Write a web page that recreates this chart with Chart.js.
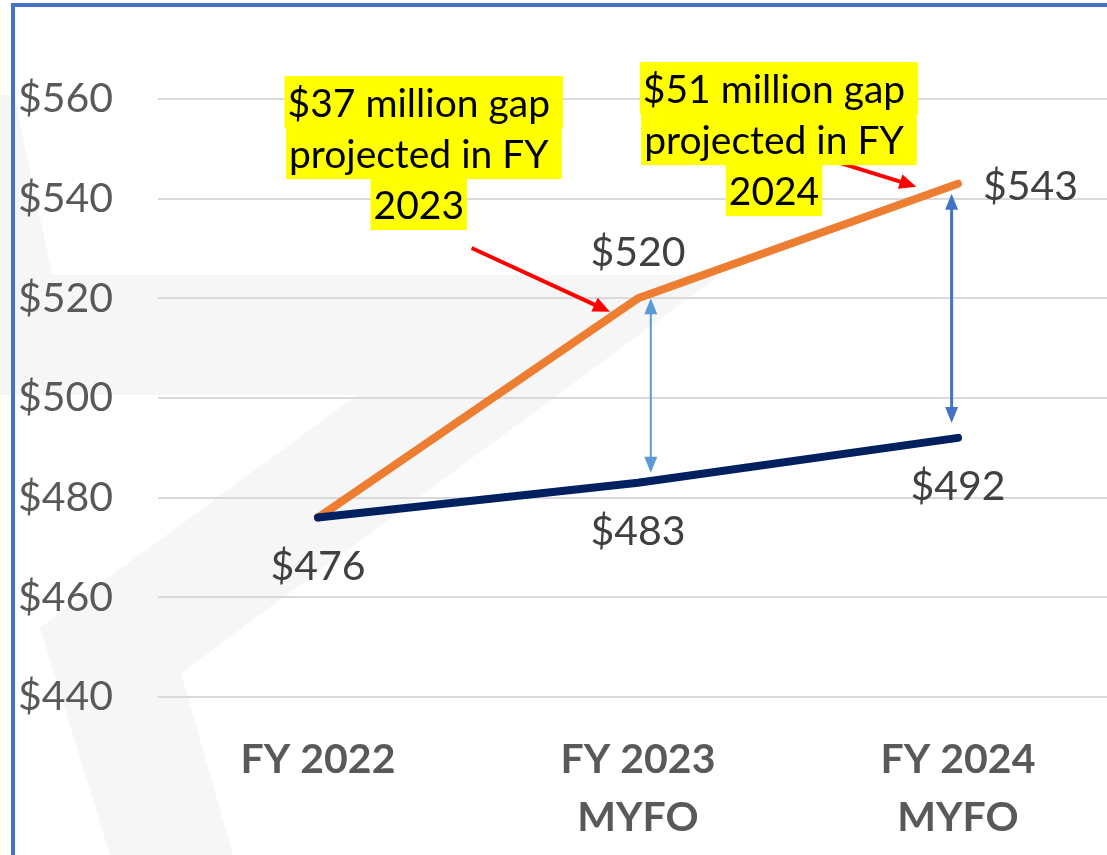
<!DOCTYPE html>
<html>
<head>
<meta charset="utf-8">
<script src="https://cdn.jsdelivr.net/npm/chart.js@4/dist/chart.umd.min.js"></script>
<style>
    html, body { margin: 0; padding: 0; background: #ffffff; overflow: hidden; }
    #chartWrap { position: absolute; left: 0; top: 0; width: 1120px; height: 855px; }
</style>
</head>
<body>
<div id="chartWrap"><canvas id="gapChart"></canvas></div>
<script>
// Chart values
const categories = [['FY 2022'], ['FY 2023', 'MYFO'], ['FY 2024', 'MYFO']];
const projectedCost = [476, 520, 543];
const baseFunding = [476, 483, 492];
const yMin = 440;
const yMax = 560;
const yStep = 20;

// Annotation texts
const gap2023Lines = ['$37 million gap', 'projected in FY', '2023'];
const gap2024Lines = ['$51 million gap', 'projected in FY', '2024'];

const FONT = 'Lato, "Open Sans", sans-serif';

/**
 * Helper : draw an arrow (one or two heads)
 */
function drawArrow(ctx, x1, y1, x2, y2, color, width, headLen, headWidth, bothEnds) {
    var ang = Math.atan2(y2 - y1, x2 - x1);
    var sx = x1, sy = y1, ex = x2, ey = y2;
    ex = x2 - Math.cos(ang) * headLen * 0.8;
    ey = y2 - Math.sin(ang) * headLen * 0.8;
    if (bothEnds) {
        sx = x1 + Math.cos(ang) * headLen * 0.8;
        sy = y1 + Math.sin(ang) * headLen * 0.8;
    }
    ctx.save();
    ctx.strokeStyle = color;
    ctx.fillStyle = color;
    ctx.lineWidth = width;
    ctx.beginPath();
    ctx.moveTo(sx, sy);
    ctx.lineTo(ex, ey);
    ctx.stroke();
    var head = function (tx, ty, a) {
        ctx.beginPath();
        ctx.moveTo(tx, ty);
        ctx.lineTo(tx - Math.cos(a) * headLen + Math.sin(a) * headWidth / 2,
                   ty - Math.sin(a) * headLen - Math.cos(a) * headWidth / 2);
        ctx.lineTo(tx - Math.cos(a) * headLen - Math.sin(a) * headWidth / 2,
                   ty - Math.sin(a) * headLen + Math.cos(a) * headWidth / 2);
        ctx.closePath();
        ctx.fill();
    };
    head(x2, y2, ang);
    if (bothEnds) {
        head(x1, y1, ang + Math.PI);
    }
    ctx.restore();
}

/**
 * Background : faint logo shape + blue frame
 */
const backgroundPlugin = {
    id: 'slideBackground',
    beforeDraw(chart) {
        var ctx = chart.ctx;
        ctx.save();
        ctx.fillStyle = '#ffffff';
        ctx.fillRect(0, 0, chart.width, chart.height);
        ctx.fillStyle = '#f6f6f6';
        var shapes = [
            [[0, 95], [14, 95], [52, 275], [0, 275]],
            [[0, 275], [720, 275], [181, 673], [233, 855], [110, 855], [40, 628], [357, 395], [0, 395]]
        ];
        shapes.forEach(function (pts) {
            ctx.beginPath();
            ctx.moveTo(pts[0][0], pts[0][1]);
            for (var i = 1; i < pts.length; i++) {
                ctx.lineTo(pts[i][0], pts[i][1]);
            }
            ctx.closePath();
            ctx.fill();
        });
        ctx.strokeStyle = '#4472c4';
        ctx.lineWidth = 4;
        ctx.beginPath();
        ctx.moveTo(13, chart.height);
        ctx.lineTo(13, 5);
        ctx.lineTo(chart.width, 5);
        ctx.stroke();
        ctx.restore();
    }
};

/**
 * Value labels next to each point
 */
const valueLabelPlugin = {
    id: 'valueLabels',
    afterDatasetsDraw(chart, args, opts) {
        var ctx = chart.ctx;
        ctx.save();
        ctx.font = opts.size + 'px ' + FONT;
        ctx.fillStyle = opts.color;
        ctx.textBaseline = 'middle';
        chart.data.datasets.forEach(function (ds, di) {
            var meta = chart.getDatasetMeta(di);
            meta.data.forEach(function (pt, i) {
                var pos = ds.labelPos[i];
                if (!pos) {
                    return;
                }
                var txt = '$' + ds.data[i];
                if (pos === 'below') {
                    ctx.textAlign = 'center';
                    ctx.fillText(txt, pt.x, pt.y + 49);
                } else if (pos === 'above') {
                    ctx.textAlign = 'center';
                    ctx.fillText(txt, pt.x, pt.y - 46);
                } else {
                    ctx.textAlign = 'left';
                    ctx.fillText(txt, pt.x + 25, pt.y + 3);
                }
            });
        });
        ctx.restore();
    }
};

/**
 * Highlighted call-outs, red pointers and gap arrows
 */
const annotationPlugin = {
    id: 'gapNotes',
    afterDraw(chart, args, opts) {
        var ctx = chart.ctx;
        var xs = chart.scales.x;
        var ys = chart.scales.y;
        var px = function (v) { return xs.getPixelForValue(v); };
        var py = function (v) { return ys.getPixelForValue(v); };

        // gap arrows
        opts.gaps.forEach(function (g) {
            drawArrow(ctx, px(g.x), py(g.from), px(g.x), py(g.to), g.color, g.width, 16, 13, true);
        });

        // pointers
        opts.pointers.forEach(function (p) {
            drawArrow(ctx, px(p.x1), py(p.y1), px(p.x2), py(p.y2), '#ff0000', 4, 17, 15, false);
        });

        // text boxes
        ctx.save();
        ctx.font = opts.size + 'px ' + FONT;
        ctx.textBaseline = 'alphabetic';
        ctx.textAlign = 'center';
        opts.notes.forEach(function (n) {
            var cx = px(n.x);
            var top = py(n.y);
            var spaceW = ctx.measureText(' ').width;
            n.lines.forEach(function (line, i) {
                var w = ctx.measureText(line).width;
                var extra = i < n.lines.length - 1 ? spaceW : 0;
                var lt = top + i * opts.lineHeight;
                ctx.fillStyle = '#ffff00';
                ctx.fillRect(cx - w / 2 - 3, lt, w + 6 + extra, opts.lineHeight + 1);
            });
            n.lines.forEach(function (line, i) {
                var lt = top + i * opts.lineHeight;
                ctx.fillStyle = '#000000';
                ctx.fillText(line, cx, lt + 41);
            });
        });
        ctx.restore();
    }
};

const ctx = document.getElementById('gapChart');

new Chart(ctx, {
    type: 'line',
    data: {
        labels: categories,
        datasets: [
            {
                label: 'Funding',
                data: baseFunding,
                borderColor: '#002060',
                borderWidth: 8,
                borderCapStyle: 'round',
                borderJoinStyle: 'round',
                pointRadius: 0,
                tension: 0,
                labelPos: ['below', 'below', 'below']
            },
            {
                label: 'Projected cost',
                data: projectedCost,
                borderColor: '#ed7d31',
                borderWidth: 8,
                borderCapStyle: 'round',
                borderJoinStyle: 'round',
                pointRadius: 0,
                tension: 0,
                labelPos: [null, 'above', 'right']
            }
        ]
    },
    options: {
        responsive: true,
        maintainAspectRatio: false,
        animation: false,
        devicePixelRatio: 1,
        layout: { padding: { top: 99, right: 2, bottom: 0, left: 0 } },
        plugins: {
            legend: { display: false },
            tooltip: { enabled: false },
            valueLabels: { size: 41, color: '#404040' },
            gapNotes: {
                size: 39,
                lineHeight: 51,
                notes: [
                    { lines: gap2023Lines, x: 0.315, y: 564.6 },
                    { lines: gap2024Lines, x: 1.425, y: 567.4 }
                ],
                pointers: [
                    { x1: 0.48, y1: 530.1, x2: 0.9125, y2: 517.3 },
                    { x1: 1.63, y1: 547.2, x2: 1.87, y2: 542.4 }
                ],
                gaps: [
                    { x: 1.04, from: 520, to: 485, color: '#5b9bd5', width: 2 },
                    { x: 1.98, from: 541, to: 495, color: '#4472c4', width: 3 }
                ]
            }
        },
        scales: {
            x: {
                offset: true,
                grid: { display: false, drawTicks: false },
                border: { display: false },
                ticks: {
                    padding: 34,
                    color: '#595959',
                    font: { family: FONT, size: 41, weight: 'bold', lineHeight: 1.415 },
                    maxRotation: 0
                },
                afterFit(scale) { scale.height = 158; }
            },
            y: {
                min: yMin,
                max: yMax,
                grid: { color: '#d9d9d9', lineWidth: 2, drawTicks: false },
                border: { display: false },
                ticks: {
                    stepSize: yStep,
                    padding: 45,
                    color: '#595959',
                    font: { family: FONT, size: 41 },
                    callback: function (v) { return '$' + v; }
                },
                afterFit(scale) { scale.width = 158; }
            }
        }
    },
    plugins: [backgroundPlugin, valueLabelPlugin, annotationPlugin]
});
</script>
</body>
</html>
